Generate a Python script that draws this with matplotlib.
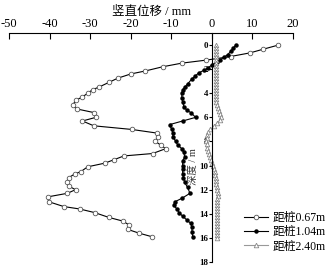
import numpy as np
import matplotlib.pyplot as plt

# 距桩0.67m
depth_067 = [0, 0.35, 0.65, 0.95, 1.25, 1.5, 1.8, 2.15, 2.4, 2.75, 3.1, 3.5, 3.7,
             4.0, 4.3, 4.6, 5.0, 5.3, 5.6, 6.0, 6.3, 6.7, 7.0, 7.3, 7.6, 8.0, 8.3,
             8.6, 9.0, 9.2, 9.5, 9.8, 10.1, 10.5, 10.7, 11.0, 11.4, 11.7, 12.0,
             12.3, 12.6, 13.0, 13.4, 13.6, 13.9, 14.3, 14.6, 14.9, 15.3, 15.6, 15.9]
disp_067 = [16.4, 12.6, 9.4, 4.6, -1.4, -7.4, -12.1, -16.4, -20.0, -23.2, -25.4,
            -27.9, -29.4, -30.6, -31.9, -33.6, -34.3, -33.3, -29.1, -28.6, -31.9,
            -29.1, -19.8, -13.6, -13.3, -13.9, -12.6, -11.4, -14.6, -21.7, -24.0,
            -26.4, -30.6, -32.3, -33.8, -35.3, -35.6, -35.3, -33.6, -35.6, -40.5,
            -40.2, -36.5, -32.6, -28.9, -25.4, -22.0, -20.5, -20.7, -18.0, -14.8]

# 距桩1.04m
depth_104 = [0, 0.27, 0.5, 0.8, 1.0, 1.25, 1.4, 1.66, 1.9, 2.1, 2.3, 2.6, 2.8,
             3.2, 3.5, 3.7, 4.0, 4.4, 4.7, 5.1, 5.4, 5.6, 6.0, 6.3, 6.6, 7.0,
             7.3, 7.6, 8.0, 8.3, 8.6, 8.9, 9.3, 9.6, 10.0, 10.3, 10.7, 11.0,
             11.4, 11.8, 12.3, 12.7, 13.0, 13.3, 13.6, 13.9, 14.2, 14.5, 14.8,
             15.1, 15.5, 15.9]
disp_104 = [5.9, 5.2, 4.7, 3.9, 3.0, 2.0, 1.2, 0.0, -1.0, -2.0, -3.2, -4.2, -4.9,
            -5.9, -6.7, -7.2, -7.4, -7.4, -7.2, -6.9, -6.2, -5.2, -4.0, -7.2,
            -10.4, -9.9, -9.6, -9.6, -8.9, -8.4, -7.4, -6.9, -6.7, -7.2, -7.2,
            -7.2, -7.2, -7.0, -6.7, -6.0, -5.4, -7.3, -9.1, -9.4, -8.6, -8.1,
            -7.2, -6.2, -5.2, -4.9, -4.9, -4.7]

# 距桩2.40m
depth_240 = [0, 0.25, 0.5, 0.75, 1.0, 1.25, 1.5, 1.75, 2.0, 2.25, 2.5, 2.75, 3.0,
             3.25, 3.5, 3.75, 4.0, 4.25, 4.5, 4.75, 5.0, 5.25, 5.5, 5.75, 6.0,
             6.25, 6.5, 6.75, 7.0, 7.25, 7.5, 7.75, 8.0, 8.25, 8.5, 8.75, 9.0,
             9.25, 9.5, 9.75, 10.0, 10.25, 10.5, 10.75, 11.0, 11.25, 11.5, 11.75,
             12.0, 12.25, 12.5, 12.75, 13.0, 13.25, 13.5, 13.75, 14.0, 14.25,
             14.5, 14.75, 15.0, 15.25, 15.5, 15.75, 16.0]
disp_240 = [1.0, 1.0, 1.0, 1.0, 1.0, 1.0, 1.0, 1.0, 1.0, 1.0, 1.0, 1.0, 1.0,
            1.0, 1.0, 1.0, 1.0, 1.0, 1.0, 1.1, 1.2, 1.5, 1.8, 2.0, 2.2, 1.9,
            1.3, 0.5, -0.4, -0.9, -1.2, -1.3, -1.4, -1.3, -1.2, -1.0, -0.8,
            -0.5, -0.2, 0.0, 0.2, 0.5, 0.7, 0.8, 0.9, 1.0, 1.1, 1.2, 1.3, 1.4,
            1.4, 1.3, 1.2, 1.2, 1.2, 1.2, 1.2, 1.2, 1.2, 1.2, 1.2, 1.2, 1.2,
            1.2, 1.2]

x_ticks = [-50, -40, -30, -20, -10, 0, 10, 20]
y_ticks = [0, 2, 4, 6, 8, 10, 12, 14, 16, 18]

fonts = ["Liberation Serif", "Noto Sans CJK SC"]
plt.rcParams["font.family"] = fonts
plt.rcParams["axes.unicode_minus"] = False

fig = plt.figure(figsize=(3.3, 2.66), dpi=100)
ax = fig.add_axes([9 / 330, 4 / 266, 284 / 330, 229 / 266])

ax.plot(disp_067, depth_067, "-", color="black", lw=0.8, marker="o", ms=3.3,
        mfc="white", mec="#555555", mew=0.6, label="距桩0.67m")
ax.plot(disp_104, depth_104, "-", color="black", lw=0.8, marker="o", ms=2.2,
        mfc="black", mec="black", label="距桩1.04m")
ax.plot(disp_240, depth_240, "-", color="#999999", lw=0.8, marker="^", ms=3.3,
        mfc="white", mec="#888888", mew=0.6, label="距桩2.40m")

ax.set_xlim(-50, 20)
ax.set_ylim(18, -1)

ax.spines["right"].set_visible(False)
ax.spines["bottom"].set_visible(False)
ax.spines["left"].set_position(("data", 0))
ax.spines["left"].set_bounds(-1, 18)
for s in ("top", "left"):
    ax.spines[s].set_linewidth(0.8)

ax.xaxis.set_ticks_position("top")
ax.xaxis.set_label_position("top")
ax.set_xticks(x_ticks)
ax.set_xticklabels([str(v) for v in x_ticks])
ax.tick_params(axis="x", direction="in", length=4, width=0.8, labelsize=9, pad=2)
ax.set_yticks(y_ticks)
ax.tick_params(axis="y", direction="out", length=2, width=0.8, labelsize=6.5, pad=0.5)
for lab in ax.get_yticklabels():
    lab.set_fontweight("bold")

ax.set_xlabel("竖直位移 / mm", fontsize=9, labelpad=2)
ax.text(0.647, 0.415, "深度 / m", transform=ax.transAxes, rotation=90,
        ha="center", va="center", fontsize=7.5, color="#333333")

ax.legend(loc="upper left", bbox_to_anchor=(238 / 330, 1 - 206 / 266),
          bbox_transform=fig.transFigure, frameon=False, fontsize=8.5,
          handlelength=2.0, handletextpad=0.4, labelspacing=0.2,
          borderpad=0)

fig.savefig("out.png", dpi=100)
